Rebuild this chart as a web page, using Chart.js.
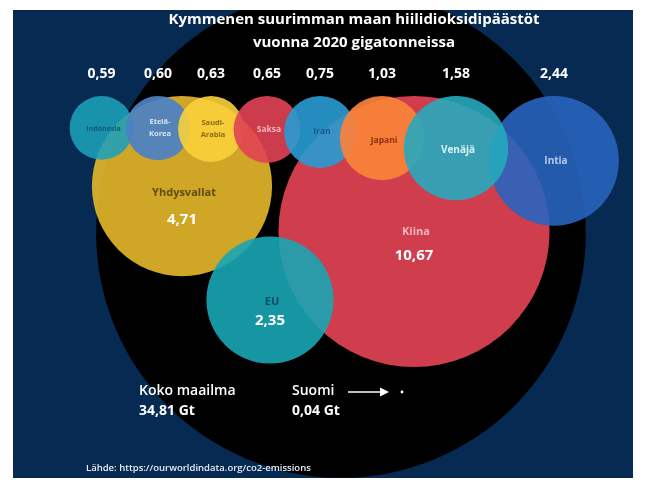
<!DOCTYPE html>
<html lang="fi">
<head>
<meta charset="utf-8">
<title>Hiilidioksidipäästöt 2020</title>
<script src="https://cdn.jsdelivr.net/npm/chart.js@4.4.1/dist/chart.umd.min.js"></script>
<style>
  html, body { margin: 0; padding: 0; background: #fff; }
  #chart { display: block; }
</style>
</head>
<body>
<canvas id="chart" width="646" height="499"></canvas>
<script>
// ===== Data: CO2 emissions 2020, Gt =====
const countries = ["Kiina", "Yhdysvallat", "Intia", "EU", "Indonesia", "Etelä-Korea", "Saudi-Arabia", "Saksa", "Iran", "Japani", "Venäjä"];
const emissions = [10.67, 4.71, 2.44, 2.35, 0.59, 0.60, 0.63, 0.65, 0.75, 1.03, 1.58];
const worldName = "Koko maailma";
const worldTotal = [34.81];
const finlandName = "Suomi";
const finland = [0.04];

// ===== Layout (panel units, not data) =====
const PANEL = { left: 13, top: 10, right: 633, bottom: 478 };
const K = 41.5;        // px per sqrt(Gt), bubble area ~ value
const TOP_LINE = 86;   // most bubbles hang from this line
const bubbleX = [401, 169, 541, 257, 88.5, 145, 198, 254, 307, 369, 443];
const bubbleY = [null, null, null, 290, null, null, null, null, null, null, null];
const worldPos = { x: 328, y: 223 };
const finlandPos = { x: 389, y: 382 };

const colors = [
  "rgba(216,64,80,0.96)",   // Kiina
  "rgba(230,184,42,0.9)",   // Yhdysvallat
  "rgba(40,100,190,0.9)",   // Intia
  "rgba(24,165,180,0.9)",   // EU
  "rgba(28,160,185,0.88)",  // Indonesia
  "rgba(76,128,196,0.92)",  // Etelä-Korea
  "rgba(250,210,60,0.9)",   // Saudi-Arabia
  "rgba(226,66,84,0.9)",    // Saksa
  "rgba(40,155,212,0.9)",   // Iran
  "rgba(250,130,58,0.92)",  // Japani
  "rgba(38,170,188,0.9)"    // Venäjä
];
// name colour, name size, name offset, value offset (value shown inside only for the big three)
const nameStyle = [
  ["#f4b6be", 11, 0, 24],
  ["#5e4c12", 11, 7, 34],
  ["#b9c9ee", 10, 0, null],
  ["#0d4d5f", 11, 2, 21],
  ["#0f5c70", 7, 1, null],
  ["#d6e3f6", 7.5, 0, null],
  ["#8a6b12", 7.5, 0, null],
  ["#f6b5bd", 8.5, 0, null],
  ["#1a5a8a", 8.5, 0, null],
  ["#8c2e12", 8.5, 2, null],
  ["#d8f2f5", 10, 2, null]
];

const FONT = "'Open Sans', 'Noto Sans', sans-serif";
const fmt = v => v.toFixed(2).replace(".", ",");
const radius = v => K * Math.sqrt(v);

const countryPoints = emissions.map((v, i) => ({
  x: bubbleX[i],
  y: bubbleY[i] !== null ? bubbleY[i] : TOP_LINE + radius(v),
  r: radius(v)
}));

function text(c, str, x, y, size, color, weight) {
  c.font = (weight || "bold") + " " + size + "px " + FONT;
  c.fillStyle = color;
  c.textAlign = "center";
  c.textBaseline = "middle";
  c.fillText(str, x, y);
}

const overlay = {
  id: "overlay",
  beforeDraw(chart) {
    const c = chart.ctx;
    c.save();
    c.fillStyle = "#ffffff";
    c.fillRect(0, 0, chart.width, chart.height);
    c.fillStyle = "#062a52";
    c.fillRect(PANEL.left, PANEL.top, PANEL.right - PANEL.left, PANEL.bottom - PANEL.top);
    c.restore();
  },
  afterDatasetsDraw(chart) {
    const c = chart.ctx;
    const pts = chart.getDatasetMeta(1).data;
    c.save();

    // title
    text(c, "Kymmenen suurimman maan hiilidioksidipäästöt", 354, 20, 15, "#ffffff");
    text(c, "vuonna 2020 gigatonneissa", 354, 43, 15, "#ffffff");

    countries.forEach((name, i) => {
      const p = pts[i];
      const [col, size, dy, vdy] = nameStyle[i];
      const parts = name.includes("-") ? [name.slice(0, name.indexOf("-") + 1), name.slice(name.indexOf("-") + 1)] : [name];
      if (parts.length === 2) {
        text(c, parts[0], p.x + 2, p.y - 6 + dy, size, col);
        text(c, parts[1], p.x + 2, p.y + 6 + dy, size, col);
      } else {
        text(c, name, p.x + 2, p.y + dy, size, col);
      }
      if (vdy !== null) {
        text(c, fmt(emissions[i]), p.x, p.y + vdy, 15, "#ffffff");
      } else {
        text(c, fmt(emissions[i]), p.x, 74, 14, "#ffffff");
      }
    });

    // world + Finland
    c.textAlign = "left";
    c.textBaseline = "middle";
    c.fillStyle = "#ffffff";
    c.font = "600 14px " + FONT;
    c.fillText(worldName, 139, 391);
    c.fillText(finlandName, 292, 391);
    c.font = "bold 14px " + FONT;
    c.fillText(fmt(worldTotal[0]) + " Gt", 139, 411);
    c.fillText(fmt(finland[0]) + " Gt", 292, 411);

    // arrow to Finland
    const f = chart.getDatasetMeta(0).data[0];
    c.strokeStyle = "#ffffff";
    c.lineWidth = 1.6;
    c.beginPath();
    c.moveTo(348, f.y);
    c.lineTo(382, f.y);
    c.stroke();
    c.beginPath();
    c.moveTo(389, f.y);
    c.lineTo(380, f.y - 4.5);
    c.lineTo(380, f.y + 4.5);
    c.closePath();
    c.fill();

    c.font = "600 9.5px " + FONT;
    c.fillStyle = "#e8eef6";
    c.fillText("Lähde: https://ourworldindata.org/co2-emissions", 86, 468);
    c.restore();
  }
};

new Chart(document.getElementById("chart"), {
  type: "bubble",
  data: {
    datasets: [
      {
        label: finlandName,
        data: finland.map(() => ({ x: finlandPos.x, y: finlandPos.y, r: 1.4 })),
        backgroundColor: "#ffffff",
        borderWidth: 0,
        order: 0
      },
      {
        label: "Maat",
        data: countryPoints,
        backgroundColor: colors,
        borderWidth: 0,
        order: 1
      },
      {
        label: worldName,
        data: worldTotal.map(v => ({ x: worldPos.x, y: worldPos.y, r: radius(v) })),
        backgroundColor: "#000000",
        borderWidth: 0,
        clip: 0,
        order: 2
      }
    ]
  },
  options: {
    responsive: false,
    animation: false,
    events: [],
    layout: {
      autoPadding: false,
      padding: { left: PANEL.left, top: PANEL.top, right: 646 - PANEL.right, bottom: 499 - PANEL.bottom }
    },
    scales: {
      x: { type: "linear", min: 0, max: PANEL.right - PANEL.left, display: false },
      y: { type: "linear", min: 0, max: PANEL.bottom - PANEL.top, reverse: true, display: false }
    },
    plugins: { legend: { display: false }, tooltip: { enabled: false } }
  },
  plugins: [overlay]
});
</script>
</body>
</html>
